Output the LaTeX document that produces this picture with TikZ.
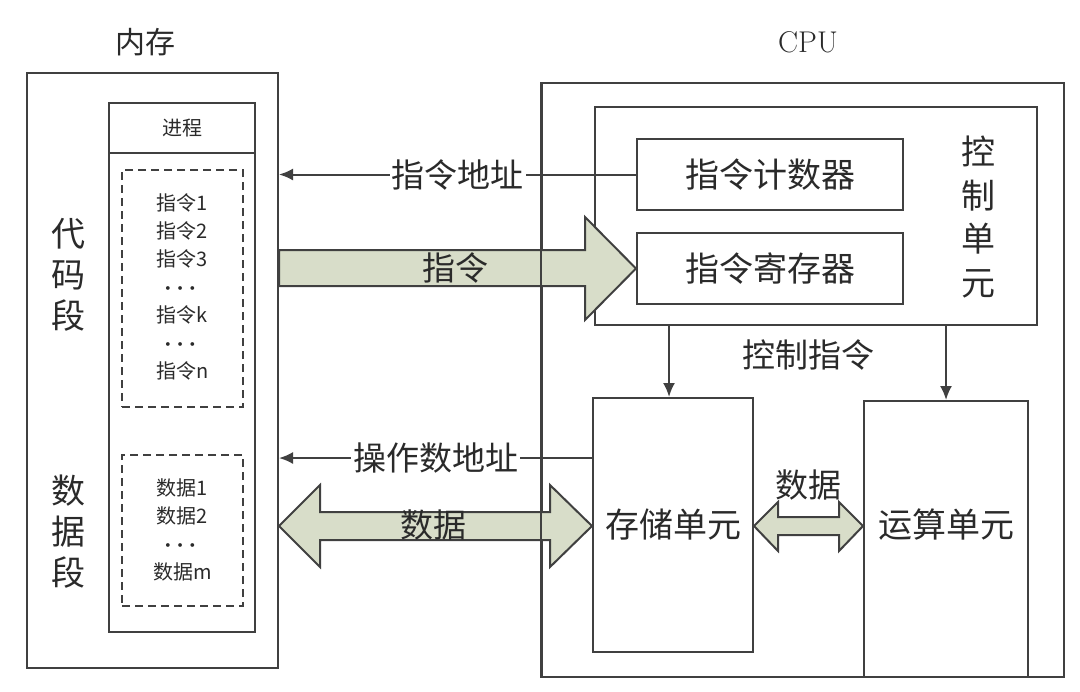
\documentclass[tikz,border=0pt]{standalone}
\usepackage{fontspec}
\newfontfamily\cjk{Noto Sans CJK SC}
\usetikzlibrary{arrows.meta,calc}
\definecolor{ln}{HTML}{404040}
\definecolor{tx}{HTML}{2A2A2A}
\definecolor{ar}{HTML}{D8DDC9}
\newcommand{\mydots}{{\fontsize{13}{14}\selectfont$\boldsymbol{\cdots}$}}
\usepackage{amsmath}
\usepackage{bm}
\begin{document}
\begin{tikzpicture}[x=0.5pt,y=-0.5pt,
  box/.style={draw=ln,line width=1pt,inner sep=0pt},
  dbox/.style={draw=ln,line width=0.8pt,dash pattern=on 4pt off 2.5pt,inner sep=0pt},
  big/.style={text=tx,font=\cjk\fontsize{16.5}{20}\selectfont,inner sep=1pt},
  vert/.style={text=tx,font=\cjk\fontsize{17}{20.5}\selectfont,align=center,inner sep=0pt},
  small/.style={text=tx,font=\cjk\fontsize{10}{14}\selectfont,align=center,inner sep=0pt},
  conn/.style={draw=ln,line width=1pt,-{Latex[length=7pt,width=6pt]}},
  linelab/.style={big,fill=white,inner sep=1pt},
  fat/.style={fill=ar,draw=ln,line width=1pt,line join=miter}]
\useasboundingbox (0,0) rectangle (1080,691);
% memory
\node[big,font=\cjk\fontsize{15}{18}\selectfont] (memt) at (145,42) {内存};
\node[box,minimum width=125.5pt,minimum height=297.5pt] (mem) at (152.5,370.5) {};
\node[box,minimum width=73pt,minimum height=264.5pt] (proc) at (182,367.5) {};
\draw[ln,line width=1pt] (proc.west |- 0,153) -- (proc.east |- 0,153);
\node[small,font=\cjk\fontsize{10}{14}\selectfont] (proct) at (182,128) {进程};
\node[dbox,minimum width=60.5pt,minimum height=118.5pt] (code) at (182.5,288.5) {};
\node[dbox,minimum width=60.5pt,minimum height=75.5pt] (data) at (182.5,530.5) {};
\node[small] (codet) at (182.5,287) {指令1\\指令2\\指令3\\\mydots\\指令k\\\mydots\\指令n};
\node[small] (datat) at (182.5,530) {数据1\\数据2\\\mydots\\数据m};
\node[vert] (codel) at (68,275) {代\\码\\段};
\node[vert] (datal) at (68,532) {数\\据\\段};
% cpu
\node[text=tx,font=\fontsize{15}{18}\selectfont] (cput) at (808,42) {CPU};
\node[box,minimum width=261pt,minimum height=297pt] (cpu) at (803,380) {};
\node[box,minimum width=221pt,minimum height=109pt] (cu) at (816,216) {};
\node[box,minimum width=133pt,minimum height=35.5pt,big,font=\cjk\fontsize{17}{20}\selectfont] (pc) at (770,174.5) {指令计数器};
\node[box,minimum width=133pt,minimum height=35.5pt,big,font=\cjk\fontsize{17}{20}\selectfont] (ir) at (770,268.5) {指令寄存器};
\node[vert,font=\cjk\fontsize{17}{21.7}\selectfont] (cul) at (978,217) {控\\制\\单\\元};
\node[box,minimum width=80pt,minimum height=127pt,big,font=\cjk\fontsize{17}{20}\selectfont] (mu) at (673,525) {存储单元};
\node[box,minimum width=82pt,minimum height=138pt] (alu) at (946,539) {};
\node[big,font=\cjk\fontsize{17}{20}\selectfont] (alut) at (946,525) {运算单元};
% thin connectors
\draw[conn] (pc.west) -- (mem.east |- pc.west) node[linelab,midway] (ial) {指令地址};
\draw[conn] (mu.west |- 0,458) -- (mem.east |- 0,458) node[linelab,midway] (oal) {操作数地址};
\draw[conn] (cu.south -| 669,0) -- (mu.north -| 669,0);
\draw[conn] (cu.south -| alu.north) -- (alu.north);
\node[big] (ctl) at (808,355) {控制指令};
% fat arrows
\filldraw[fat] (mem.east |- 0,250) -- (585,250) -- (585,217) -- (ir.west) -- (585,320) -- (585,286) -- (mem.east |- 0,286) -- cycle;
\node[big] (instl) at (455,268) {指令};
\filldraw[fat] (mem.east |- 0,526) -- (320,485) -- (320,512) -- (550,512) -- (550,485) -- (mu.west |- 0,526) -- (550,567) -- (550,540) -- (320,540) -- (320,567) -- cycle;
\node[big] (datl) at (433,525) {数据};
\filldraw[fat] (mu.east |- 0,526) -- (778,502) -- (778,517) -- (839,517) -- (839,502) -- (alu.west |- 0,526) -- (839,551) -- (839,535) -- (778,535) -- (778,551) -- cycle;
\node[big] (datl2) at (808,485) {数据};
\draw[ln,line width=1pt] (cpu.north west) -- (cpu.south west);
\end{tikzpicture}
\end{document}
